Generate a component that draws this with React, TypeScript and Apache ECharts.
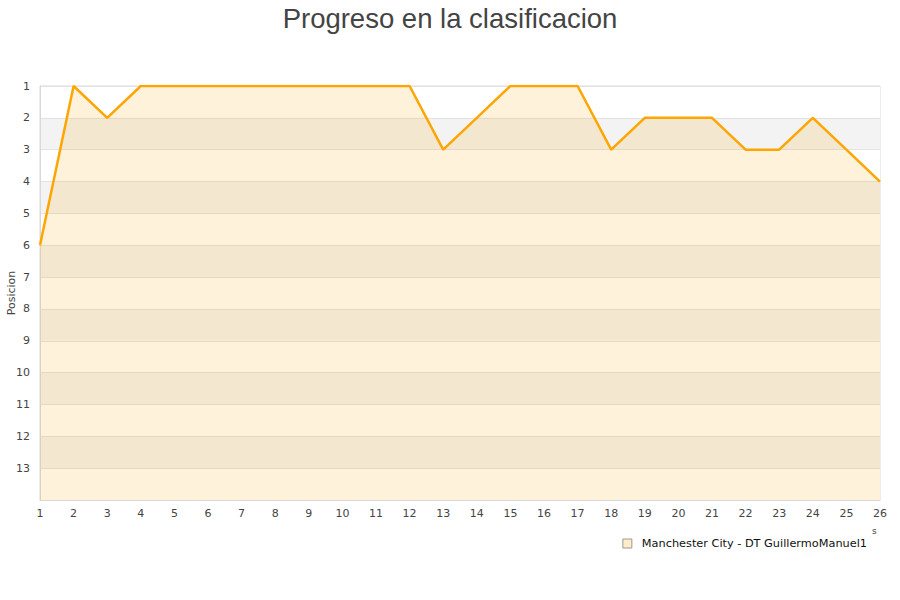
import React, { useEffect, useRef } from "react";
import * as echarts from "echarts";

const jornadas = ["1","2","3","4","5","6","7","8","9","10","11","12","13","14","15","16","17","18","19","20","21","22","23","24","25","26"];
const posiciones = [6,1,2,1,1,1,1,1,1,1,1,1,3,2,1,1,1,3,2,2,2,3,3,2,3,4];
const seriesName = "Manchester City - DT GuillermoManuel1";
const titleText = "Progreso en la clasificacion";
const yAxisName = "Posicion";

export default function App() {
  const ref = useRef<HTMLDivElement>(null);
  useEffect(() => {
    const chart = echarts.init(ref.current!, null, { renderer: "svg" });
    chart.setOption({
      animation: false,
      backgroundColor: "#ffffff",
      title: {
        text: titleText,
        left: "center",
        top: -1,
        textStyle: { fontFamily: "Liberation Sans, Arial, sans-serif", fontSize: 27.5, fontWeight: "normal", color: "#444444" },
      },
      grid: {
        left: 40, right: 20, top: 86, bottom: 100,
        containLabel: false, outerBoundsMode: "none",
        show: true, borderColor: "#d9d9d9", borderWidth: 1, backgroundColor: "transparent",
      },
      legend: {
        right: 28,
        top: 533,
        itemWidth: 9,
        itemHeight: 9,
        itemGap: 10,
        icon: "rect",
        textStyle: { fontFamily: "DejaVu Sans, sans-serif", fontSize: 11.3, color: "#111", padding: [0, 0, 0, 5] },
        data: [{ name: seriesName, itemStyle: { color: "#ffecc9", borderColor: "#999", borderWidth: 1 } }],
      },
      xAxis: {
        type: "category",
        boundaryGap: false,
        data: jornadas,
        axisLine: { show: true, lineStyle: { color: "#d9d9d9" } },
        axisTick: { show: false },
        axisLabel: { color: "#444", fontFamily: "DejaVu Sans, sans-serif", fontSize: 11, margin: 8, interval: 0 },
        splitLine: { show: false },
      },
      yAxis: {
        type: "value",
        inverse: true,
        min: 1,
        max: 14,
        interval: 1,
        name: yAxisName,
        nameLocation: "middle",
        nameGap: 23,
        nameMoveOverlap: false,
        nameTextStyle: { color: "#444", fontFamily: "DejaVu Sans, sans-serif", fontSize: 11 },
        axisLine: { show: true, lineStyle: { color: "#d9d9d9" } },
        axisTick: { show: false },
        axisLabel: {
          color: "#444",
          fontFamily: "DejaVu Sans, sans-serif",
          fontSize: 11,
          margin: 10,
          formatter: (v: number) => (v >= 14 ? "" : String(v)),
        },
        splitLine: { show: true, lineStyle: { color: "#e2e2e2", width: 1 } },
        splitArea: { show: true, areaStyle: { color: ["#ffffff", "#f3f3f3"] } },
      },
      graphic: [
        { type: "text", left: 872, top: 526, style: { text: "s", fontSize: 9, fill: "#444", fontFamily: "DejaVu Sans, sans-serif" } },
      ],
      series: [
        {
          name: seriesName,
          type: "line",
          data: posiciones,
          symbol: "none",
          lineStyle: { color: "#ffa500", width: 2.5 },
          itemStyle: { color: "#ffecc9" },
          areaStyle: { origin: "end", color: "rgba(255,165,0,0.21)" },
        },
      ],
    });
    return () => chart.dispose();
  }, []);
  return <div ref={ref} style={{ width: 900, height: 600, position: "absolute", left: 0, top: 0 }} />;
}
